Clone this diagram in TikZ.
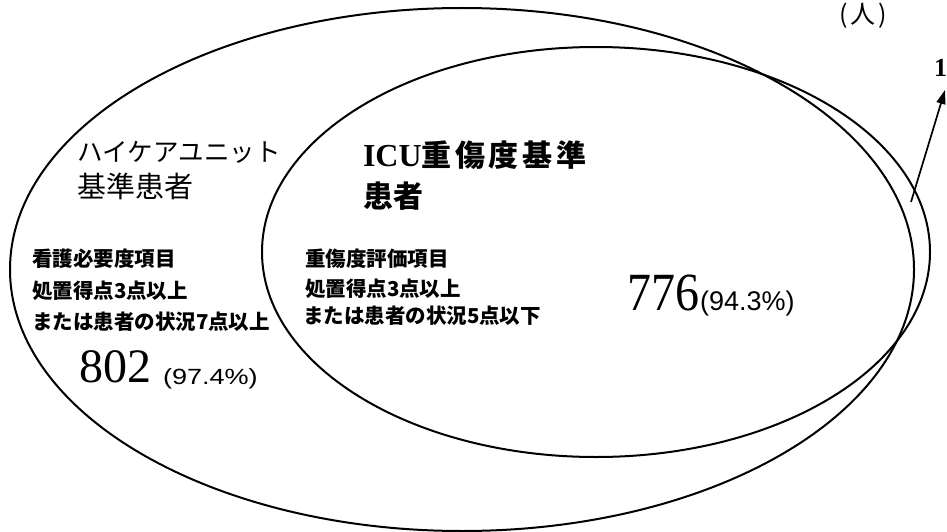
\documentclass[tikz,border=0pt]{standalone}
\usepackage{fontspec}
\setmainfont{Liberation Serif}
\newfontfamily\jp{Noto Sans CJK JP}
\newfontfamily\jpsp[LetterSpace=12]{Noto Sans CJK JP}
\newfontfamily\pct{Liberation Sans}
\usetikzlibrary{arrows.meta}
\newcommand{\fsz}[1]{\fontsize{#1}{#1}\selectfont}
\tikzset{
  setline/.style={line width=2pt, draw=black},
  txt/.style={anchor=base west, inner sep=0pt, outer sep=0pt},
  small/.style={txt, font=\jp\bfseries\fsz{20.5}},
  arrowline/.style={line width=1.7pt, -{Triangle[length=14pt,width=9pt]}}
}
\begin{document}
\begin{tikzpicture}[x=1pt,y=-1pt]
\useasboundingbox (0,0) rectangle (947,532);
% sets
\draw[setline] (462,269.5) ellipse [x radius=452pt, y radius=261.5pt];
\draw[setline] (596,252) ellipse [x radius=334pt, y radius=205pt];
% unit
\node[txt, font=\jp\fsz{25}] (unit) at (839,24) {(\kern3pt 人\kern3pt)};
% HCU title
\node[txt, font=\jp\fsz{25.5}] (hcu1) at (77,161) {ハイケアユニット};
\node[txt, font=\jp\fsz{29}] (hcu2) at (77,197) {基準患者};
% ICU title
\node[txt] (icu1) at (363,166) {{\bfseries\fsz{32}ICU}{\jpsp\bfseries\fsz{30}重傷度基準}};
\node[txt, font=\jp\bfseries\fsz{30}] (icu2) at (363,207) {患者};
% HCU criteria
\node[small] (hl1) at (32,266) {看護必要度項目};
\node[small] (hl2) at (32,298) {処置得点3点以上};
\node[small] (hl3) at (32,329) {または患者の状況7点以上};
% ICU criteria
\node[small] (il1) at (305,266) {重傷度評価項目};
\node[small] (il2) at (305,296) {処置得点3点以上};
\node[small] (il3) at (303,323) {または患者の状況5点以下};
% counts
\node[txt, font=\fsz{48}] (n802) at (79,382) {802};
\node[txt, font=\pct\fsz{22}] (p802) at (163,384) {\scalebox{1.23}[1]{(97.4\%)}};
\node[txt, font=\fsz{48}] (n776) at (627,310) {\scalebox{1}[1.12]{776}};
\node[txt, font=\pct\fsz{27}] (p776) at (700,310) {(94.3\%)};
% ICU-only count
\node[txt, font=\bfseries\fsz{26}] (one) at (934,77) {1};
\coordinate (arrowstart) at (911,202);
\coordinate (arrowtip) at (945,90);
\draw[arrowline] (arrowstart) -- (arrowtip);
\end{tikzpicture}
\end{document}
